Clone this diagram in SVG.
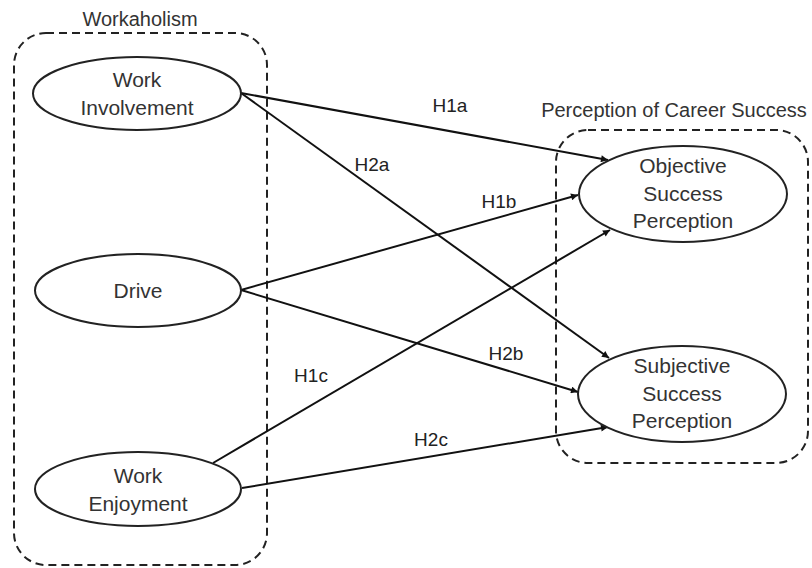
<svg xmlns="http://www.w3.org/2000/svg" width="812" height="568" viewBox="0 0 812 568">
<style>
.grp{fill:none;stroke:#222;stroke-width:2;stroke-dasharray:8 5}
.node{fill:#fff;stroke:#222;stroke-width:2}
.t{font-family:"Liberation Sans",Arial,sans-serif;font-size:20px;fill:#333;text-anchor:middle}
.n{font-family:"Liberation Sans",Arial,sans-serif;font-size:21px;fill:#333;text-anchor:middle}
.lbl{font-family:"Liberation Sans",Arial,sans-serif;font-size:19px;fill:#222;text-anchor:middle}
.c{fill:none;stroke:#111;stroke-width:2;marker-end:url(#ah)}
</style>
<defs>
<marker id="ah" viewBox="0 0 10 10" refX="10" refY="5" markerWidth="8" markerHeight="7" markerUnits="userSpaceOnUse" orient="auto">
<path d="M0,0 L10,5 L0,10 z" fill="#111"/>
</marker>
</defs>
<rect width="812" height="568" fill="#fff"/>
<g id="workaholism-group">
<rect class="grp" x="14" y="33" width="253" height="532" rx="32" ry="32"/>
<text class="t" x="140" y="26">Workaholism</text>
</g>
<g id="career-group">
<rect class="grp" x="556" y="130" width="252" height="333" rx="32" ry="32"/>
<text class="t" x="674" y="117">Perception of Career Success</text>
</g>
<g id="connectors">
<line class="c" x1="241" y1="93" x2="608" y2="160"/>
<line class="c" x1="241" y1="93" x2="609" y2="358"/>
<line class="c" x1="241" y1="290" x2="578" y2="195"/>
<line class="c" x1="241" y1="290" x2="578" y2="392"/>
<line class="c" x1="213" y1="463" x2="610" y2="230"/>
<line class="c" x1="242" y1="488" x2="608" y2="427"/>
<text class="lbl" x="450" y="112">H1a</text>
<text class="lbl" x="372" y="171">H2a</text>
<text class="lbl" x="499" y="208">H1b</text>
<text class="lbl" x="506" y="360">H2b</text>
<text class="lbl" x="311" y="382">H1c</text>
<text class="lbl" x="431" y="446">H2c</text>
</g>
<g id="work-involvement">
<ellipse class="node" cx="137" cy="93.5" rx="104" ry="36.5"/>
<text class="n" x="137" y="87">Work</text>
<text class="n" x="137" y="115">Involvement</text>
</g>
<g id="drive">
<ellipse class="node" cx="138" cy="290.5" rx="103" ry="36.5"/>
<text class="n" x="138" y="298">Drive</text>
</g>
<g id="work-enjoyment">
<ellipse class="node" cx="138" cy="489" rx="103" ry="37"/>
<text class="n" x="138" y="483">Work</text>
<text class="n" x="138" y="511">Enjoyment</text>
</g>
<g id="objective-success">
<ellipse class="node" cx="683" cy="194" rx="104" ry="48"/>
<text class="n" x="683" y="173">Objective</text>
<text class="n" x="683" y="201">Success</text>
<text class="n" x="683" y="228">Perception</text>
</g>
<g id="subjective-success">
<ellipse class="node" cx="682" cy="394" rx="104" ry="48"/>
<text class="n" x="682" y="373">Subjective</text>
<text class="n" x="682" y="401">Success</text>
<text class="n" x="682" y="428">Perception</text>
</g>
</svg>
